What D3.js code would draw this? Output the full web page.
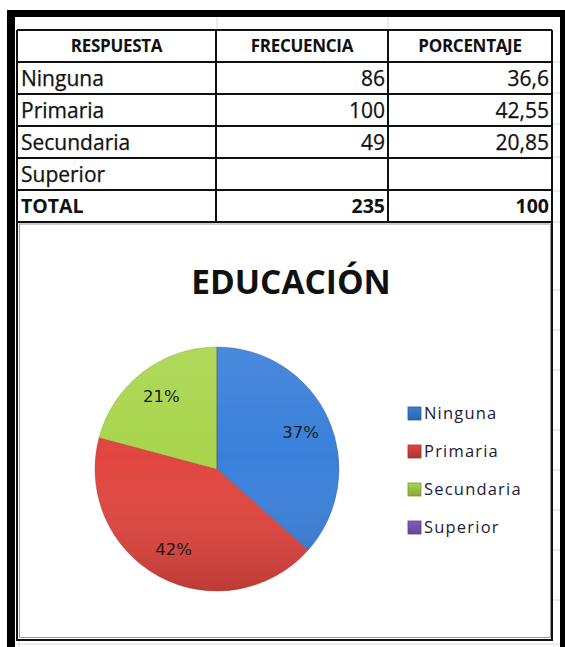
<!DOCTYPE html>
<html>
<head>
<meta charset="utf-8">
<script src="https://cdn.jsdelivr.net/npm/d3@7"></script>
<style>
  html, body { margin: 0; padding: 0; background: #fff; }
  svg { display: block; }
</style>
</head>
<body>
<div id="chart"></div>
<script>
// table + chart data
const headers = ['RESPUESTA', 'FRECUENCIA', 'PORCENTAJE'];
const categories = ['Ninguna', 'Primaria', 'Secundaria', 'Superior'];
const frecuencia = [86, 100, 49, null];
const porcentaje = ['36,6', '42,55', '20,85', ''];
const totalRow = ['TOTAL', '235', '100'];
const pieLabels = ['37%', '42%', '21%', ''];
const chartTitle = 'EDUCACIÓN';
const sliceColors = ['#3473c4', '#ca3e39', '#98bf45', '#7552a8'];

const W = 565, H = 647;
const FONT = '"Open Sans", "DejaVu Sans", sans-serif';
const CHART_FONT = '"DejaVu Sans", Verdana, sans-serif';

const svg = d3.select('#chart')
    .append('svg')
    .attr('width', W)
    .attr('height', H)
    .attr('viewBox', [0, 0, W, H]);

// faint spreadsheet gridlines behind everything
const grid = svg.append('g').attr('stroke', '#dcdcdc').attr('stroke-width', 1);
[217, 388].forEach((x) => grid.append('line').attr('x1', x).attr('x2', x).attr('y1', 17).attr('y2', 30));
[62, 93, 124, 157, 191, 222, 290, 330, 370, 430, 470, 510, 550, 600].forEach((y) =>
    grid.append('line').attr('x1', 553).attr('x2', 560).attr('y1', y).attr('y2', y));
grid.append('line').attr('x1', 15).attr('x2', 560).attr('y1', 644).attr('y2', 644);
grid.append('line').attr('x1', 19).attr('x2', 19).attr('y1', 640).attr('y2', 647);

// outer thick frame
svg.append('rect').attr('x', 7).attr('y', 10).attr('width', 8).attr('height', H).attr('fill', '#000');
svg.append('rect').attr('x', 7).attr('y', 10).attr('width', W).attr('height', 7).attr('fill', '#000');
svg.append('rect').attr('x', 560).attr('y', 10).attr('width', 8).attr('height', H).attr('fill', '#000');

// ---- table ----
const colX = [17, 216, 388, 552];
const rowKeys = ['head', ...categories, 'total'];
const y = d3.scaleBand().domain(rowKeys).range([30, 222]);

const table = svg.append('g');
table.append('g')
    .selectAll('line')
    .data(d3.range(rowKeys.length + 1))
    .join('line')
    .attr('x1', colX[0]).attr('x2', colX[3])
    .attr('y1', (i) => i < rowKeys.length ? y(rowKeys[i]) : y.range()[1])
    .attr('y2', (i) => i < rowKeys.length ? y(rowKeys[i]) : y.range()[1])
    .attr('stroke', '#111').attr('stroke-width', 2);
table.append('g')
    .selectAll('line')
    .data(colX)
    .join('line')
    .attr('x1', (d) => d).attr('x2', (d) => d)
    .attr('y1', 30).attr('y2', 222)
    .attr('stroke', '#111').attr('stroke-width', 2);

const mid = (k) => y(k) + y.bandwidth() / 2;

table.append('g')
    .selectAll('text')
    .data(headers)
    .join('text')
    .attr('x', (d, i) => (colX[i] + colX[i + 1]) / 2)
    .attr('y', mid('head'))
    .attr('dy', '0.36em')
    .attr('text-anchor', 'middle')
    .attr('font-family', FONT).attr('font-weight', 700).attr('font-size', 17)
    .attr('letter-spacing', -0.3)
    .attr('fill', '#111')
    .text((d) => d);

const body = table.append('g')
    .attr('font-family', FONT).attr('font-size', 21)
    .attr('fill', '#111').attr('stroke', '#111').attr('stroke-width', 0.25);
categories.forEach((c, i) => {
    body.append('text').attr('x', 21).attr('y', mid(c)).attr('dy', '0.36em').text(c);
    body.append('text').attr('x', colX[2] - 3).attr('y', mid(c)).attr('dy', '0.36em')
        .attr('text-anchor', 'end').text(frecuencia[i] == null ? '' : frecuencia[i]);
    body.append('text').attr('x', colX[3] - 3).attr('y', mid(c)).attr('dy', '0.36em')
        .attr('text-anchor', 'end').text(porcentaje[i]);
});
const tot = table.append('g').attr('font-family', FONT).attr('font-size', 19.5).attr('font-weight', 700).attr('fill', '#111');
tot.append('text').attr('x', 21).attr('y', mid('total')).attr('dy', '0.36em').text(totalRow[0]);
tot.append('text').attr('x', colX[2] - 3).attr('y', mid('total')).attr('dy', '0.36em').attr('text-anchor', 'end').text(totalRow[1]);
tot.append('text').attr('x', colX[3] - 3).attr('y', mid('total')).attr('dy', '0.36em').attr('text-anchor', 'end').text(totalRow[2]);

// ---- chart area ----
svg.append('rect')
    .attr('x', 17).attr('y', 222).attr('width', 535).attr('height', 418)
    .attr('fill', '#fff').attr('stroke', '#111').attr('stroke-width', 2);
svg.append('rect')
    .attr('x', 19.5).attr('y', 224).attr('width', 531).attr('height', 413.5)
    .attr('fill', 'none').attr('stroke', '#9a9a9a').attr('stroke-width', 1);

svg.append('text')
    .attr('x', 291).attr('y', 294)
    .attr('text-anchor', 'middle')
    .attr('font-family', FONT).attr('font-weight', 700).attr('font-size', 33.5)
    .attr('fill', '#111')
    .text(chartTitle);

const cx = 217, cy = 469, R = 122;
const defs = svg.append('defs');
sliceColors.forEach((c, i) => {
    const base = d3.color(c);
    const g = defs.append('radialGradient')
        .attr('id', `sl${i}`)
        .attr('gradientUnits', 'userSpaceOnUse')
        .attr('cx', cx).attr('cy', cy).attr('r', R);
    g.append('stop').attr('offset', 0).attr('stop-color', base.brighter(0.1));
    g.append('stop').attr('offset', 0.82).attr('stop-color', base);
    g.append('stop').attr('offset', 0.96).attr('stop-color', base.darker(0.2));
    g.append('stop').attr('offset', 1).attr('stop-color', base.brighter(0.3));

    const lg = defs.append('linearGradient')
        .attr('id', `lg${i}`)
        .attr('x1', 0).attr('y1', 0).attr('x2', 0).attr('y2', 1);
    lg.append('stop').attr('offset', 0).attr('stop-color', base.brighter(0.3));
    lg.append('stop').attr('offset', 1).attr('stop-color', base.darker(0.4));
});
const shade = defs.append('linearGradient')
    .attr('id', 'shade').attr('gradientUnits', 'userSpaceOnUse')
    .attr('x1', 0).attr('y1', cy - R).attr('x2', 0).attr('y2', cy + R);
shade.append('stop').attr('offset', 0).attr('stop-color', '#fff').attr('stop-opacity', 0.08);
shade.append('stop').attr('offset', 0.45).attr('stop-color', '#fff').attr('stop-opacity', 0);
shade.append('stop').attr('offset', 1).attr('stop-color', '#000').attr('stop-opacity', 0.16);

const pie = d3.pie().sort(null).value((d) => d || 0);
const arcs = pie(frecuencia);
const arc = d3.arc().innerRadius(0).outerRadius(R);
const labelArc = d3.arc().innerRadius(R * 0.75).outerRadius(R * 0.75);

const pg = svg.append('g').attr('transform', `translate(${cx},${cy})`);
pg.selectAll('path.slice')
    .data(arcs)
    .join('path')
    .attr('class', 'slice')
    .attr('d', arc)
    .attr('fill', (d, i) => `url(#sl${i})`)
    .attr('stroke', (d, i) => d3.color(sliceColors[i]).darker(0.5))
    .attr('stroke-opacity', 0.5)
    .attr('stroke-width', 0.8);
pg.append('circle')
    .attr('r', R)
    .attr('fill', 'url(#shade)')
    .attr('transform', `translate(${-cx},${-cy})`)
    .attr('cx', cx).attr('cy', cy);

pg.selectAll('text')
    .data(arcs.filter((d) => d.value > 0))
    .join('text')
    .attr('transform', (d) => `translate(${labelArc.centroid(d)})`)
    .attr('dy', '0.36em')
    .attr('text-anchor', 'middle')
    .attr('font-family', CHART_FONT).attr('font-size', 16.5)
    .attr('fill', '#1a1a1a')
    .text((d) => pieLabels[d.index]);

// legend
const leg = svg.append('g').attr('transform', 'translate(408,413)');
const legY = d3.scalePoint().domain(categories).range([0, 114]);
const item = leg.selectAll('g')
    .data(categories)
    .join('g')
    .attr('transform', (d) => `translate(0,${legY(d)})`);
item.append('rect')
    .attr('x', 0).attr('y', -6).attr('width', 13).attr('height', 13)
    .attr('fill', (d, i) => `url(#lg${i})`)
    .attr('stroke', (d, i) => d3.color(sliceColors[i]).darker(0.6))
    .attr('stroke-width', 0.8);
item.append('text')
    .attr('x', 16).attr('y', 0).attr('dy', '0.36em')
    .attr('font-family', FONT).attr('font-size', 16.5)
    .attr('letter-spacing', 1.2)
    .attr('fill', '#1b1b3a')
    .text((d) => d);
</script>
</body>
</html>
